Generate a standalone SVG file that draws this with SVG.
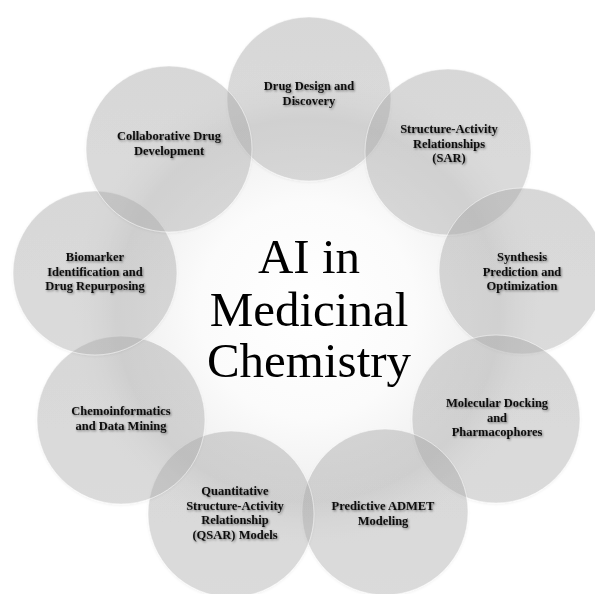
<svg xmlns="http://www.w3.org/2000/svg" width="595" height="594" viewBox="0 0 595 594">
<defs>
<radialGradient id="bg" cx="308" cy="310" r="240" gradientUnits="userSpaceOnUse">
<stop offset="0" stop-color="#ffffff"/>
<stop offset="0.45" stop-color="#fbfbfb"/>
<stop offset="0.8" stop-color="#eeeeee"/>
<stop offset="1" stop-color="#ffffff" stop-opacity="0"/>
</radialGradient>
<linearGradient id="cg" x1="0" y1="0" x2="0" y2="1">
<stop offset="0" stop-color="#a8a8a8"/>
<stop offset="1" stop-color="#b0b0b0"/>
</linearGradient>
<filter id="ts" x="-10%" y="-30%" width="120%" height="160%">
<feDropShadow dx="1" dy="1.2" stdDeviation="0.9" flood-color="#000" flood-opacity="0.45"/>
</filter>
<filter id="cs" x="-10%" y="-10%" width="120%" height="120%">
<feDropShadow dx="0" dy="1" stdDeviation="1.2" flood-color="#000" flood-opacity="0.1"/>
</filter>
</defs>
<style>
.c{fill:url(#cg);fill-opacity:0.41;stroke:#ffffff;stroke-opacity:0.5;stroke-width:1;filter:url(#cs)}
.t{font-family:"Liberation Serif","Times New Roman",serif;font-weight:bold;font-size:12.5px;fill:#111;text-anchor:middle;filter:url(#ts)}
.title{font-family:"Liberation Serif","Times New Roman",serif;font-size:49px;fill:#000;text-anchor:middle}
</style>
<rect width="595" height="594" fill="#ffffff"/>
<circle cx="308" cy="310" r="240" fill="url(#bg)"/>
<g id="connectors"/>
<g id="n1"><circle class="c" cx="309" cy="99" r="82"/></g>
<g id="n2"><circle class="c" cx="448" cy="152" r="83"/></g>
<g id="n3"><circle class="c" cx="522" cy="271" r="83"/></g>
<g id="n4"><circle class="c" cx="496" cy="419" r="84"/></g>
<g id="n5"><circle class="c" cx="385" cy="512" r="83"/></g>
<g id="n6"><circle class="c" cx="231" cy="514" r="83"/></g>
<g id="n7"><circle class="c" cx="121" cy="420" r="84"/></g>
<g id="n8"><circle class="c" cx="95" cy="273" r="82"/></g>
<g id="n9"><circle class="c" cx="169" cy="149" r="83"/></g>
<g id="labels">
<text class="t" x="309" y="90">Drug Design and</text>
<text class="t" x="309" y="104.5">Discovery</text>
<text class="t" x="449" y="133">Structure-Activity</text>
<text class="t" x="449" y="147.5">Relationships</text>
<text class="t" x="449" y="162">(SAR)</text>
<text class="t" x="522" y="261">Synthesis</text>
<text class="t" x="522" y="275.5">Prediction  and</text>
<text class="t" x="522" y="290">Optimization</text>
<text class="t" x="497" y="407">Molecular Docking</text>
<text class="t" x="497" y="421.5">and</text>
<text class="t" x="497" y="436">Pharmacophores</text>
<text class="t" x="383" y="510">Predictive ADMET</text>
<text class="t" x="383" y="524.5">Modeling</text>
<text class="t" x="235" y="495">Quantitative</text>
<text class="t" x="235" y="509.5">Structure-Activity</text>
<text class="t" x="235" y="524">Relationship</text>
<text class="t" x="235" y="538.5">(QSAR) Models</text>
<text class="t" x="121" y="415">Chemoinformatics</text>
<text class="t" x="121" y="429.5">and Data Mining</text>
<text class="t" x="95" y="261">Biomarker</text>
<text class="t" x="95" y="275.5">Identification  and</text>
<text class="t" x="95" y="290">Drug Repurposing</text>
<text class="t" x="169" y="140">Collaborative  Drug</text>
<text class="t" x="169" y="154.5">Development</text>
</g>
<g id="center">
<text class="title" x="309" y="273">AI in</text>
<text class="title" x="309" y="326">Medicinal</text>
<text class="title" x="309" y="377">Chemistry</text>
</g>
</svg>
